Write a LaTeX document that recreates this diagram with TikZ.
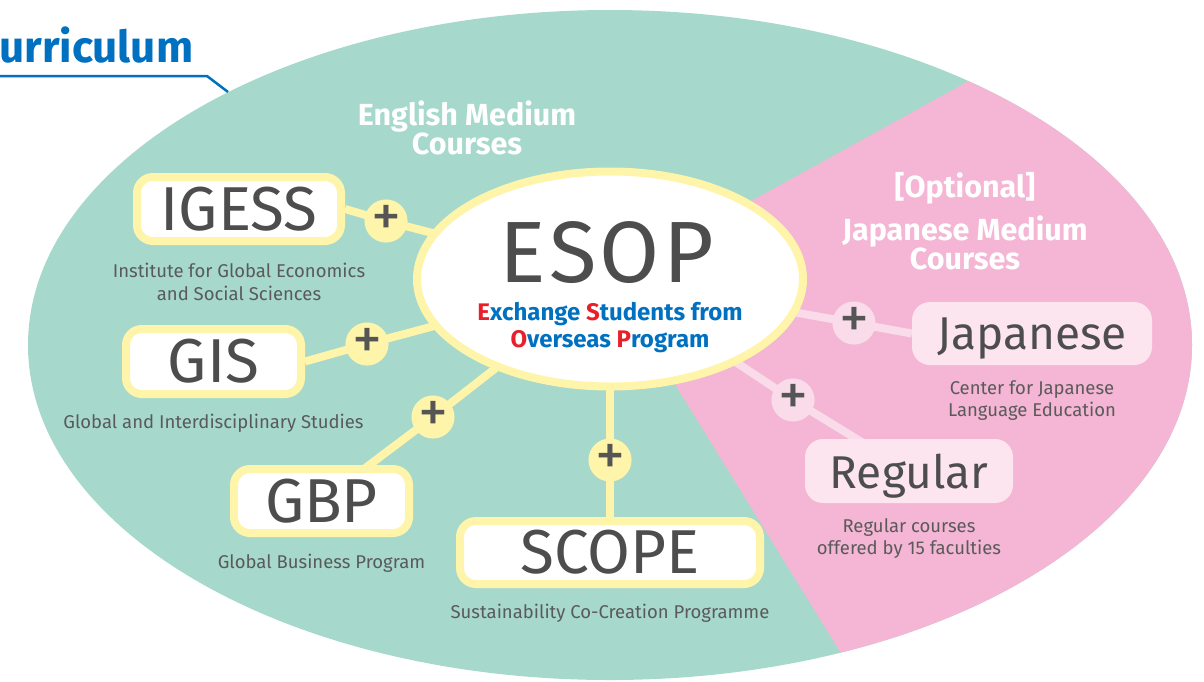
\documentclass[tikz,border=0pt]{standalone}
\usepackage{fontspec}
\setmainfont{Fira Sans}
\newfontfamily\esopfont{Fira Sans}[LetterSpace=4]
\usetikzlibrary{shapes.geometric, positioning}

\definecolor{mint}{RGB}{166,217,203}
\definecolor{rosa}{RGB}{244,182,212}
\definecolor{cream}{RGB}{255,245,170}
\definecolor{palepink}{RGB}{252,229,239}
\definecolor{pluspink}{RGB}{249,219,234}
\definecolor{inkgray}{RGB}{77,77,77}
\definecolor{subgray}{RGB}{90,90,90}
\definecolor{plusgray}{RGB}{85,85,85}
\definecolor{esopblue}{RGB}{0,112,192}
\definecolor{esopred}{RGB}{232,32,42}

\pgfdeclarelayer{back}
\pgfdeclarelayer{links}
\pgfsetlayers{back,links,main}

\begin{document}
\begin{tikzpicture}[x=1pt, y=-1pt,
    school/.style={rectangle, rounded corners=16pt, draw=cream, line width=8pt, fill=white,
        text=inkgray, inner sep=0pt, font=\fontsize{62}{62}\selectfont},
    jpcourse/.style={rectangle, rounded corners=18pt, fill=palepink, text=inkgray,
        inner sep=0pt, text depth=0pt, font=\fontsize{46}{46}\selectfont},
    plus/.style={circle, fill=cream, minimum size=43pt, inner sep=0pt, text=plusgray,
        font=\fontsize{60}{60}\selectfont},
    pluspk/.style={plus, fill=pluspink},
    caption/.style={text=subgray, align=center, inner sep=0pt, font=\fontsize{18.5}{22.5}\selectfont},
    heading/.style={text=white, align=center, inner sep=0pt, font=\bfseries\fontsize{30.5}{29}\selectfont},
    link/.style={draw=cream, line width=8pt},
    linkpk/.style={draw=pluspink, line width=8pt}]
    \useasboundingbox (0,0) rectangle (1204,681);
    \coordinate (hub) at (610,279);

    % Background: the big oval, pink wedge for the Japanese courses
    \begin{pgfonlayer}{back}
    \begin{scope}
        \clip (610,345) ellipse [x radius=582pt, y radius=335pt];
        \fill[mint] (0,0) rectangle (1204,681);
        \fill[rosa] (hub) -- (1324,-115) -- (1500,-115) -- (1500,900) -- (960,846) -- cycle;
    \end{scope}
    \end{pgfonlayer}

    % Title
    \node[anchor=base west, inner sep=0pt, text=esopblue, font=\bfseries\fontsize{44}{44}\selectfont] (title) at (-1,62) {urriculum};
    \draw[esopblue, line width=2.5pt] (-3,76) -- (207,76) -- (228,92);

    % Headings
    \node[heading] (enghead) at (467,128) {English Medium\\Courses};
    \node[heading] (jphead) at (965,221) {[Optional]\\[10pt]Japanese Medium\\Courses};

    % Centre
    \node[ellipse, draw=cream, line width=8pt, fill=white, minimum width=386pt, minimum height=215pt, inner sep=0pt] (esop) at (hub) {};
    \node[text=inkgray, inner sep=0pt, font=\esopfont\fontsize{87}{87}\selectfont] (esoptitle) at (607,253) {ESOP};
    \node[text=esopblue, align=center, inner sep=0pt, font=\bfseries\fontsize{24}{27}\selectfont] (esopsub) at (610,328)
        {\textcolor{esopred}{E}xchange \textcolor{esopred}{S}tudents from\\\textcolor{esopred}{O}verseas \textcolor{esopred}{P}rogram};

    % English medium programmes
    \node[school, minimum width=204pt, minimum height=64pt] (igess) at (239,209) {IGESS};
    \node[caption, below=18pt of igess] (igesscap) {Institute for Global Economics\\and Social Sciences};
    \node[school, minimum width=175pt, minimum height=65pt] (gis) at (213.5,361.5) {GIS};
    \node[caption, below=16pt of gis] (giscap) {Global and Interdisciplinary Studies};
    \node[school, minimum width=175pt, minimum height=64pt] (gbp) at (321.5,501) {GBP};
    \node[caption, below=17pt of gbp] (gbpcap) {Global Business Program};
    \node[school, minimum width=300pt, minimum height=63pt] (scope) at (610,552.5) {SCOPE};
    \node[caption, below=16pt of scope] (scopecap) {Sustainability Co-Creation Programme};

    % Japanese medium courses
    \node[jpcourse, minimum width=240pt, minimum height=63pt] (japanese) at (1032,333.5) {Japanese};
    \node[caption, below=15pt of japanese] (japanesecap) {Center for Japanese\\Language Education};
    \node[jpcourse, minimum width=208pt, minimum height=64pt] (regular) at (909,471) {Regular};
    \node[caption, below=15pt of regular] (regularcap) {Regular courses\\offered by 15 faculties};

    % Plus signs
    \node[plus] (plusI) at (386,221) {+};
    \node[plus] (plusG) at (367,344) {+};
    \node[plus] (plusB) at (433,417) {+};
    \node[plus] (plusS) at (610,460) {+};
    \node[pluspk] (plusJ) at (854,323) {+};
    \node[pluspk] (plusR) at (793,400) {+};

    % Links
    \begin{pgfonlayer}{links}
    \draw[link] (esop.center) -- (plusI.center) -- (igess.east);
    \draw[link] (esop.center) -- (plusG.center) -- (gis.east);
    \draw[link] (esop.center) -- (plusB.center) -- (gbp.center);
    \draw[link] (esop.center) -- (plusS.center) -- (scope.center);
    \draw[linkpk] (esop.center) -- (plusJ.center) -- (japanese.west);
    \draw[linkpk] (esop.center) -- (plusR.center) -- (regular.center);
    \end{pgfonlayer}
\end{tikzpicture}
\end{document}
